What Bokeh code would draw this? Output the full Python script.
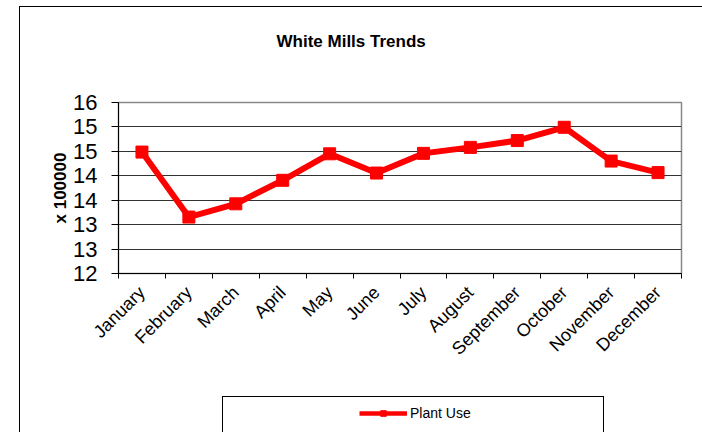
import math
from bokeh.plotting import figure
from bokeh.layouts import column
from bokeh.models import (FixedTicker, CustomJSTickFormatter, Legend, LegendItem, Range1d,
                          InlineStyleSheet, Title)
from bokeh.embed import file_html
from bokeh.resources import INLINE

# ---- data (values in units of 100000) ----
months = ["January", "February", "March", "April", "May", "June", "July",
          "August", "September", "October", "November", "December"]
plant_use = [14.84, 13.32, 13.63, 14.18, 14.80, 14.35, 14.81, 14.95, 15.11, 15.42, 14.63, 14.36]
y_min, y_max, y_intervals = 12, 16, 7
y_tick_labels = ["12", "13", "13", "14", "14", "15", "15", "16"]
title_text = "White Mills Trends"
y_axis_title = "x 100000"
series_name = "Plant Use"

FONT = "Liberation Sans"
RED = "#FF0000"

x_pos = [i + 0.5 for i in range(len(months))]
y_ticks = [y_min + k * (y_max - y_min) / y_intervals for k in range(y_intervals + 1)]

# ---------------- main chart ----------------
p = figure(width=702, height=396, output_backend="svg", toolbar_location=None,
           x_range=Range1d(0, len(months)), y_range=Range1d(y_min, y_max),
           min_border_left=118, min_border_right=21, min_border_top=102, min_border_bottom=123)
p.background_fill_color = "white"
p.border_fill_color = "white"
p.outline_line_color = "#888888"
p.outline_line_width = 1.5

# title: a blank spacer panel next to the frame, then the real title further out
p.title.text = ""
p.add_layout(Title(text=" ", text_font_size="10px", standoff=34), "above")
p.add_layout(Title(text=title_text, align="left", offset=158, standoff=10,
                   text_font=FONT, text_font_size="17px", text_font_style="bold",
                   text_color="black"), "above")

p.xgrid.grid_line_color = None
p.ygrid.grid_line_color = "#333333"
p.ygrid.grid_line_width = 1

p.xaxis.ticker = FixedTicker(ticks=x_pos, minor_ticks=list(range(len(months) + 1)))
p.xaxis.formatter = CustomJSTickFormatter(args=dict(labels=months),
                                          code="return labels[Math.floor(tick)] || '';")
p.xaxis.major_tick_line_color = None
p.xaxis.minor_tick_line_color = "black"
p.xaxis.minor_tick_out = 5
p.xaxis.minor_tick_in = 0
p.xaxis.axis_line_color = "black"
p.xaxis.major_label_orientation = math.pi / 4
p.xaxis.major_label_text_font = FONT
p.xaxis.major_label_text_font_size = "18px"
p.xaxis.major_label_text_color = "black"
p.xaxis.major_label_standoff = 10

p.yaxis.ticker = FixedTicker(ticks=y_ticks, minor_ticks=[])
p.yaxis.formatter = CustomJSTickFormatter(
    args=dict(lbls=y_tick_labels, tvals=y_ticks),
    code="""
let best = 0;
for (let i = 0; i < tvals.length; i++) {
  if (Math.abs(tvals[i] - tick) < Math.abs(tvals[best] - tick)) best = i;
}
return lbls[best];
""")
p.yaxis.major_tick_line_color = "black"
p.yaxis.major_tick_out = 7
p.yaxis.major_tick_in = 0
p.yaxis.minor_tick_line_color = None
p.yaxis.axis_line_color = "black"
p.yaxis.major_label_text_font = FONT
p.yaxis.major_label_text_font_size = "22px"
p.yaxis.major_label_text_color = "black"
p.yaxis.major_label_standoff = 14
p.yaxis.axis_label = y_axis_title
p.yaxis.axis_label_text_font = FONT
p.yaxis.axis_label_text_font_size = "17px"
p.yaxis.axis_label_text_font_style = "bold"
p.yaxis.axis_label_text_color = "black"
p.yaxis.axis_label_standoff = 0

p.line(x_pos, plant_use, line_color=RED, line_width=6, line_join="miter")
p.scatter(x_pos, plant_use, marker="square", size=12, fill_color=RED, line_color=RED)

p.stylesheets = [InlineStyleSheet(css="""
:host::before {
  content: ""; position: absolute; left: 19px; top: 6px; width: 683px; height: 390px;
  box-sizing: border-box; border-left: 1px solid black; border-top: 1px solid black;
  pointer-events: none; z-index: 10;
}
""")]

# ---------------- legend strip ----------------
lg = figure(width=702, height=36, output_backend="svg", toolbar_location=None,
            x_axis_type=None, y_axis_type=None,
            x_range=Range1d(0, 1), y_range=Range1d(0, 1),
            min_border_left=0, min_border_right=0, min_border_top=0, min_border_bottom=0)
lg.outline_line_color = None
lg.grid.grid_line_color = None
lg.background_fill_color = "white"
lg.border_fill_color = "white"
# legend-only renderers (same series, hidden; only their legend sample is shown)
leg_line = lg.line(x_pos, plant_use, line_color=RED, line_width=4.5, visible=False)
leg_pts = lg.scatter(x_pos, plant_use, marker="square", size=8, fill_color=RED,
                     line_color=RED, visible=False)
legend = Legend(items=[LegendItem(label=series_name, renderers=[leg_line, leg_pts])],
                location=(241, 11), padding=0, margin=0, spacing=0,
                glyph_width=48, glyph_height=14, label_height=14, label_standoff=3,
                border_line_color=None, background_fill_alpha=0, inactive_fill_alpha=0,
                label_text_font=FONT, label_text_font_size="14px", label_text_color="black")
lg.add_layout(legend)
lg.stylesheets = [InlineStyleSheet(css="""
:host::before {
  content: ""; position: absolute; left: 19px; top: 0px; width: 1px; height: 36px;
  background: black; pointer-events: none; z-index: 10;
}
:host::after {
  content: ""; position: absolute; left: 222px; top: 0px; width: 382px; height: 36px;
  box-sizing: border-box; border: 1px solid black; border-bottom: none;
  pointer-events: none; z-index: 10;
}
""")]

layout = column(p, lg, spacing=0)
open("out.html", "w").write(file_html(layout, INLINE))
